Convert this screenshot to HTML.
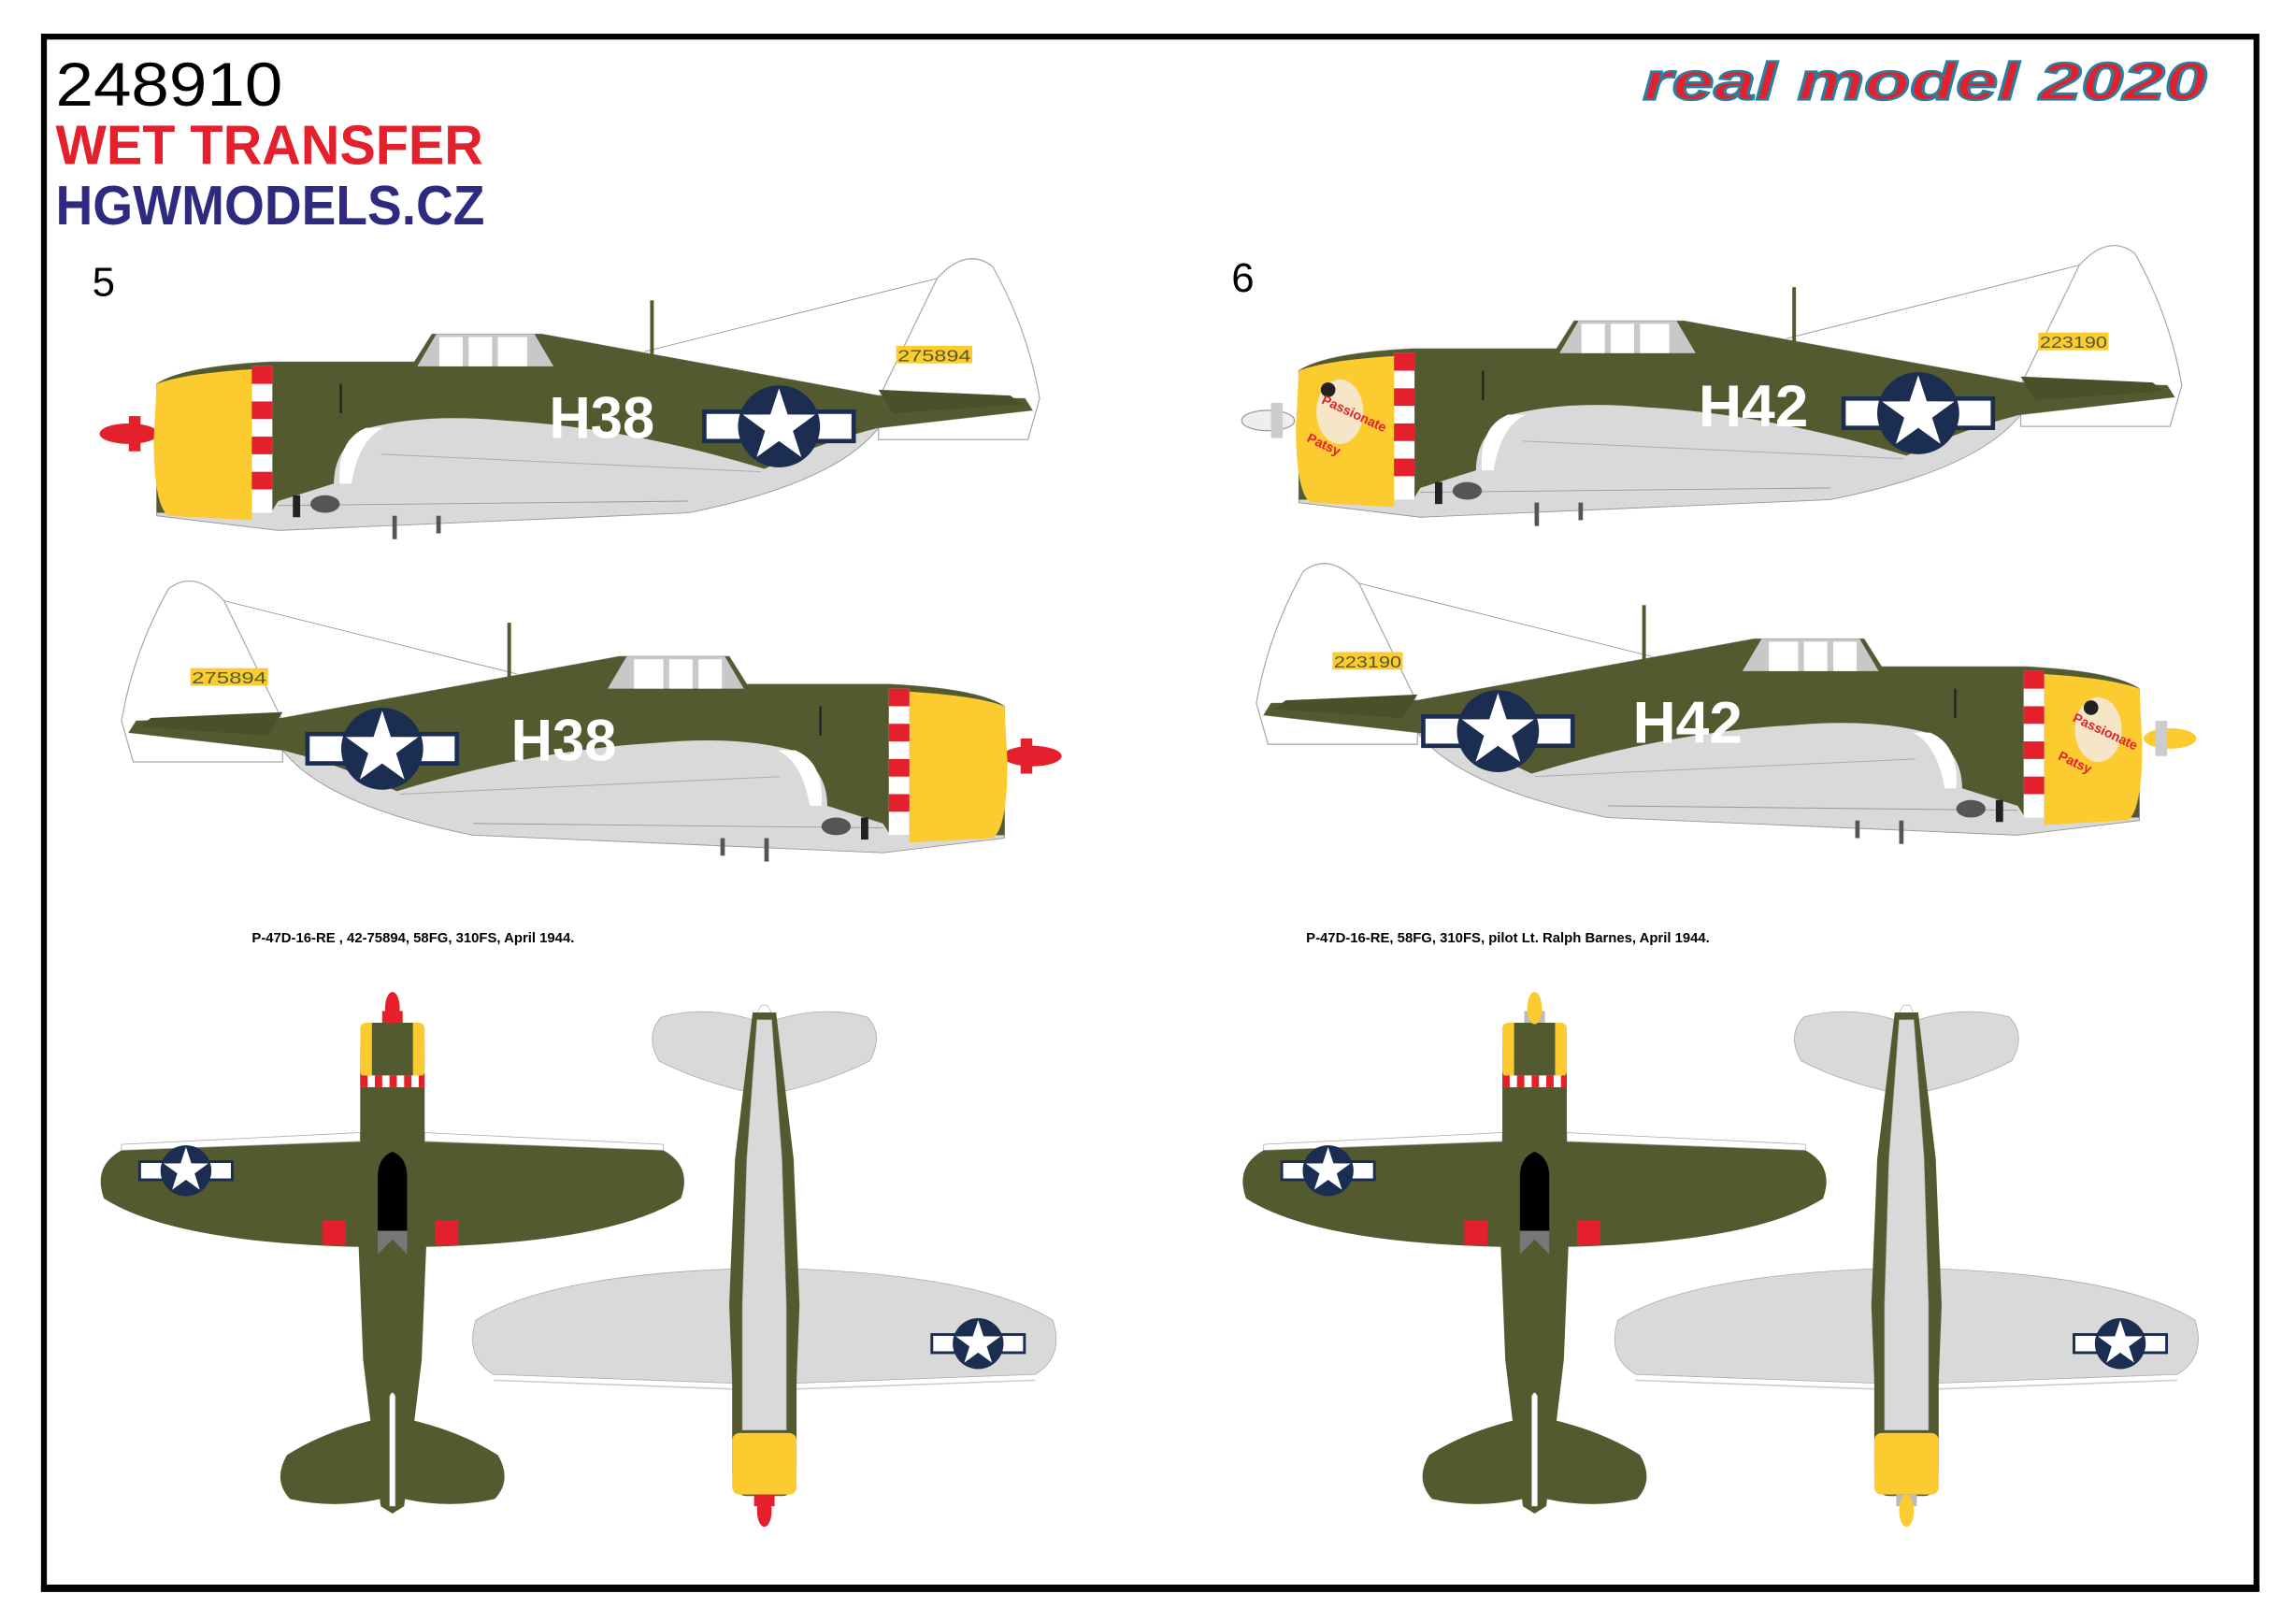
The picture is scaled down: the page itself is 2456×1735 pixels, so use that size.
<!DOCTYPE html>
<html><head><meta charset="utf-8"><style>
html,body{margin:0;padding:0;background:#fff;width:2456px;height:1735px;overflow:hidden}
svg{display:block}
</style></head><body>
<svg width="2456" height="1735" viewBox="0 0 1568 1107" preserveAspectRatio="none" xmlns="http://www.w3.org/2000/svg">
<defs>
<g id="ins">
 <rect x="-51" y="-10" width="102" height="20" fill="#fff" stroke="#1b2d50" stroke-width="3"/>
 <circle r="28" fill="#1b2d50"/>
 <polygon fill="#fff" points="0,-26 5.9,-8.1 24.7,-8 9.5,3.1 15.3,21 0,10 -15.3,21 -9.5,3.1 -24.7,-8 -5.9,-8.1"/>
</g>
<g id="side">
 <path d="M600,272 L640,190 Q660,168 678,182 Q702,225 710,272 L702,300 L600,300 Z" fill="#fff" stroke="#aaa" stroke-width="0.8"/>
 <line x1="440" y1="240" x2="640" y2="190" stroke="#999" stroke-width="0.6"/>
 <path d="M107,262 Q125,250 185,247 L283,247 L295,228 L370,228 L600,270 L700,272 L705,280 L600,292 Q570,330 470,350 L190,362 L107,352 Z" fill="#d9d9d9" stroke="#999" stroke-width="0.6"/>
 <path d="M107,262 Q125,250 185,247 L283,247 L295,228 L370,228 L600,270 L700,272 L705,280 L600,292 Q560,302 522,320 Q430,292 345,287 Q290,282 252,292 Q228,305 228,330 L190,342 L185,350 L107,350 Z" fill="#545a30"/>
 <path d="M600,266 L690,270 L698,276 L610,282 Z" fill="#4a5029"/>
 <path d="M250,292 Q230,300 232,330 L240,330 Q245,300 262,292 Z" fill="#fff"/>
 <line x1="190" y1="345" x2="470" y2="342" stroke="#999" stroke-width="0.6"/>
 <line x1="260" y1="310" x2="520" y2="322" stroke="#aaa" stroke-width="0.6"/>
 <path d="M285,250 L298,228 L365,228 L378,250 Z" fill="#c8c8c8"/>
 <rect x="300" y="230" width="16" height="20" fill="#fff"/>
 <rect x="320" y="230" width="16" height="20" fill="#fff"/>
 <rect x="340" y="230" width="20" height="20" fill="#fff"/>
 <rect x="444" y="205" width="2.5" height="45" fill="#545a30"/>
 <path d="M107,262 Q125,255 172,252 L172,355 L115,352 Q105,345 105,300 Z" fill="#fccb30"/>
 <rect x="172" y="250" width="14" height="100" fill="#fff"/>
 <rect x="172" y="250" width="14" height="12" fill="#e3202b"/>
 <rect x="172" y="274" width="14" height="12" fill="#e3202b"/>
 <rect x="172" y="298" width="14" height="12" fill="#e3202b"/>
 <rect x="172" y="322" width="14" height="12" fill="#e3202b"/>
 <rect x="200" y="338" width="5" height="15" fill="#222"/>
 <ellipse cx="222" cy="344" rx="10" ry="6" fill="#555"/>
 <rect x="268" y="352" width="3" height="16" fill="#555"/>
 <rect x="298" y="352" width="3" height="12" fill="#555"/>
 <rect x="232" y="262" width="1.5" height="20" fill="#222"/>
</g>
<g id="under">
 <path d="M-8,60 Q-45,52 -72,38 Q-82,20 -70,8 Q-40,0 -8,10 Z M8,60 Q45,52 72,38 Q82,20 70,8 Q40,0 8,10 Z" fill="#d9d9d9" stroke="#aaa" stroke-width="0.5"/>
 <path d="M-2,0 L2,0 L8,10 L-8,10 Z" fill="#fff" stroke="#aaa" stroke-width="0.4"/>
 <path d="M-22,258 L-185,252 Q-205,240 -197,215 Q-150,185 -22,180 Z M22,258 L185,252 Q205,240 197,215 Q150,185 22,180 Z" fill="#d9d9d9" stroke="#aaa" stroke-width="0.5"/>
 <path d="M-22,262 L-185,256 M22,262 L185,256" stroke="#ccc" stroke-width="1"/>
 <path d="M-8,5 L-20,105 L-24,205 L-22,255 L-22,315 Q-22,335 -12,335 L12,335 Q22,335 22,315 L22,255 L24,205 L20,105 L8,5 Z" fill="#545a30"/>
 <path d="M-5,10 L-12,105 L-15,205 L-15,290 L15,290 L15,205 L12,105 L5,10 Z" fill="#d9d9d9" stroke="#aaa" stroke-width="0.4"/>
 <rect x="-22" y="292" width="44" height="42" rx="5" fill="#fccb30"/>
 <use href="#ins" transform="translate(146,231) scale(0.62)"/>
</g>
<g id="topv">
 <path d="M-8,290 Q-45,298 -72,315 Q-82,332 -70,345 Q-40,352 -8,345 Z M8,290 Q45,298 72,315 Q82,332 70,345 Q40,352 8,345 Z" fill="#545a30"/>
 <path d="M-22,101 L-185,107 Q-205,118 -197,140 Q-150,170 -22,173 Z M22,101 L185,107 Q205,118 197,140 Q150,170 22,173 Z" fill="#545a30"/>
 <path d="M-22,101 L-185,107 L-185,103 L-22,95 Z M22,101 L185,107 L185,103 L22,95 Z" fill="#fff" stroke="#aaa" stroke-width="0.5"/>
 <path d="M-12,20 Q-22,20 -22,40 L-22,100 L-24,150 L-20,250 L-8,350 L0,355 L8,350 L20,250 L24,150 L22,100 L22,40 Q22,20 12,20 Z" fill="#545a30"/>
 <rect x="-22" y="20" width="44" height="37" rx="4" fill="#fccb30"/>
 <rect x="-14" y="20" width="28" height="37" fill="#545a30"/>
 <rect x="-22" y="56" width="44" height="8" fill="#fff"/>
 <g fill="#e3202b"><rect x="-22" y="56" width="5" height="8"/><rect x="-12" y="56" width="5" height="8"/><rect x="-2" y="56" width="5" height="8"/><rect x="8" y="56" width="5" height="8"/><rect x="18" y="56" width="4" height="8"/></g>
 <path d="M-10,125 Q-10,112 0,108 Q10,112 10,125 L10,162 L-10,162 Z" fill="#000"/>
 <path d="M-10,162 L10,162 L10,178 L0,168 L-10,178 Z" fill="#777"/>
 <rect x="-48" y="155" width="16" height="17" fill="#e3202b"/>
 <rect x="29" y="155" width="16" height="17" fill="#e3202b"/>
 <path d="M-2,275 Q0,270 2,275 L2,350 L-2,350 Z" fill="#fff" stroke="#999" stroke-width="0.4"/>
 <use href="#ins" transform="translate(-141,121) scale(0.62)"/>
</g>
</defs>
<rect x="30" y="25" width="1511" height="1059" fill="none" stroke="#000" stroke-width="4"/>
<line x1="28" y1="1084" x2="1543" y2="1084" stroke="#000" stroke-width="5"/>
<text x="38" y="72" font-family="Liberation Sans Narrow, Liberation Sans, sans-serif" font-size="42" fill="#000" textLength="155" lengthAdjust="spacingAndGlyphs">248910</text>
<text x="38" y="112" font-family="Liberation Sans, sans-serif" font-weight="bold" font-size="38" fill="#e3202b" textLength="292" lengthAdjust="spacingAndGlyphs">WET TRANSFER</text>
<text x="38" y="153" font-family="Liberation Sans, sans-serif" font-weight="bold" font-size="38" fill="#2e2a7f" textLength="293" lengthAdjust="spacingAndGlyphs">HGWMODELS.CZ</text>
<text x="1122" y="68" font-family="Liberation Sans, sans-serif" font-weight="bold" font-style="italic" font-size="36" fill="#e3202b" stroke="#2a7fa0" stroke-width="1.5" textLength="385" lengthAdjust="spacingAndGlyphs">real model 2020</text>
<text x="63" y="202" font-family="Liberation Sans, sans-serif" font-size="28" fill="#000">5</text>
<text x="841" y="199" font-family="Liberation Sans, sans-serif" font-size="28" fill="#000">6</text>

<ellipse cx="88" cy="296" rx="20" ry="7" fill="#e3202b"/>
<rect x="88" y="284" width="8" height="24" fill="#e3202b"/>
<use href="#side"/>
<use href="#ins" transform="translate(532,291)"/>
<text x="375" y="299" font-family="Liberation Sans, sans-serif" font-weight="bold" font-size="40" fill="#fff" textLength="72" lengthAdjust="spacingAndGlyphs">H38</text>
<rect x="612" y="236" width="52" height="12" fill="#fccb30"/>
<text x="613" y="246.5" font-family="Liberation Sans, sans-serif" font-size="11" fill="#545a30" textLength="50" lengthAdjust="spacingAndGlyphs">275894</text>

<g transform="translate(793,220) scale(-1,1)">
 <ellipse cx="88" cy="296" rx="20" ry="7" fill="#e3202b"/>
 <rect x="88" y="284" width="8" height="24" fill="#e3202b"/>
 <use href="#side"/>
 <use href="#ins" transform="translate(532,291)"/>
</g>
<text x="349" y="519" font-family="Liberation Sans, sans-serif" font-weight="bold" font-size="40" fill="#fff" textLength="72" lengthAdjust="spacingAndGlyphs">H38</text>
<rect x="130" y="456" width="53" height="12" fill="#fccb30"/>
<text x="131" y="466.5" font-family="Liberation Sans, sans-serif" font-size="11" fill="#545a30" textLength="51" lengthAdjust="spacingAndGlyphs">275894</text>

<g transform="translate(780,-9)">
 <ellipse cx="86" cy="296" rx="18" ry="7" fill="#eee" stroke="#999" stroke-width="0.8"/>
 <rect x="88" y="284" width="8" height="24" fill="#ccc"/>
 <use href="#side"/>
 <use href="#ins" transform="translate(530,291)"/>
 <ellipse cx="135" cy="290" rx="16" ry="22" fill="#f5e8d8" opacity="0.9"/>
 <circle cx="127" cy="275" r="5" fill="#222"/>
 <text x="122" y="284" font-family="Liberation Sans, sans-serif" font-weight="bold" font-size="9" fill="#e3202b" transform="rotate(25 122 284)">Passionate</text>
 <text x="112" y="310" font-family="Liberation Sans, sans-serif" font-weight="bold" font-size="9" fill="#e3202b" transform="rotate(25 112 310)">Patsy</text>
</g>
<text x="1160" y="291" font-family="Liberation Sans, sans-serif" font-weight="bold" font-size="40" fill="#fff" textLength="75" lengthAdjust="spacingAndGlyphs">H42</text>
<rect x="1392" y="227" width="48" height="12" fill="#fccb30"/>
<text x="1393" y="237.5" font-family="Liberation Sans, sans-serif" font-size="11" fill="#545a30" textLength="46" lengthAdjust="spacingAndGlyphs">223190</text>

<g transform="translate(1568,208) scale(-1,1)">
 <ellipse cx="86" cy="296" rx="18" ry="7" fill="#fccb30"/>
 <rect x="88" y="284" width="8" height="24" fill="#ccc"/>
 <use href="#side"/>
 <use href="#ins" transform="translate(545,291)"/>
 <ellipse cx="135" cy="290" rx="16" ry="22" fill="#f5e8d8" opacity="0.9"/>
 <circle cx="140" cy="275" r="5" fill="#222"/>
</g>
<text x="1415" y="492" font-family="Liberation Sans, sans-serif" font-weight="bold" font-size="9" fill="#e3202b" transform="rotate(25 1415 492)">Passionate</text>
<text x="1405" y="518" font-family="Liberation Sans, sans-serif" font-weight="bold" font-size="9" fill="#e3202b" transform="rotate(25 1405 518)">Patsy</text>
<text x="1115" y="507" font-family="Liberation Sans, sans-serif" font-weight="bold" font-size="40" fill="#fff" textLength="75" lengthAdjust="spacingAndGlyphs">H42</text>
<rect x="910" y="445" width="48" height="12" fill="#fccb30"/>
<text x="911" y="455.5" font-family="Liberation Sans, sans-serif" font-size="11" fill="#545a30" textLength="46" lengthAdjust="spacingAndGlyphs">223190</text>

<text x="172" y="643" font-family="Liberation Sans, sans-serif" font-weight="bold" font-size="9.5" fill="#000">P-47D-16-RE , 42-75894, 58FG, 310FS, April 1944.</text>
<text x="892" y="643" font-family="Liberation Sans, sans-serif" font-weight="bold" font-size="9.5" fill="#000">P-47D-16-RE, 58FG, 310FS, pilot Lt. Ralph Barnes, April 1944.</text>

<g transform="translate(268,678)">
 <use href="#topv"/>
 <rect x="-7" y="12" width="14" height="8" fill="#e3202b"/>
 <ellipse cx="0" cy="10" rx="5" ry="11" fill="#e3202b"/>
</g>
<g transform="translate(522,686)">
 <use href="#under"/>
 <rect x="-7" y="334" width="14" height="8" fill="#e3202b"/>
 <ellipse cx="0" cy="345" rx="5" ry="11" fill="#e3202b"/>
</g>
<g transform="translate(1048,678)">
 <use href="#topv"/>
 <rect x="-7" y="12" width="14" height="8" fill="#bbb"/>
 <ellipse cx="0" cy="10" rx="5" ry="11" fill="#fccb30"/>
</g>
<g transform="translate(1302,686)">
 <use href="#under"/>
 <rect x="-7" y="334" width="14" height="8" fill="#bbb"/>
 <ellipse cx="0" cy="345" rx="5" ry="11" fill="#fccb30"/>
</g>
</svg>
</body></html>
